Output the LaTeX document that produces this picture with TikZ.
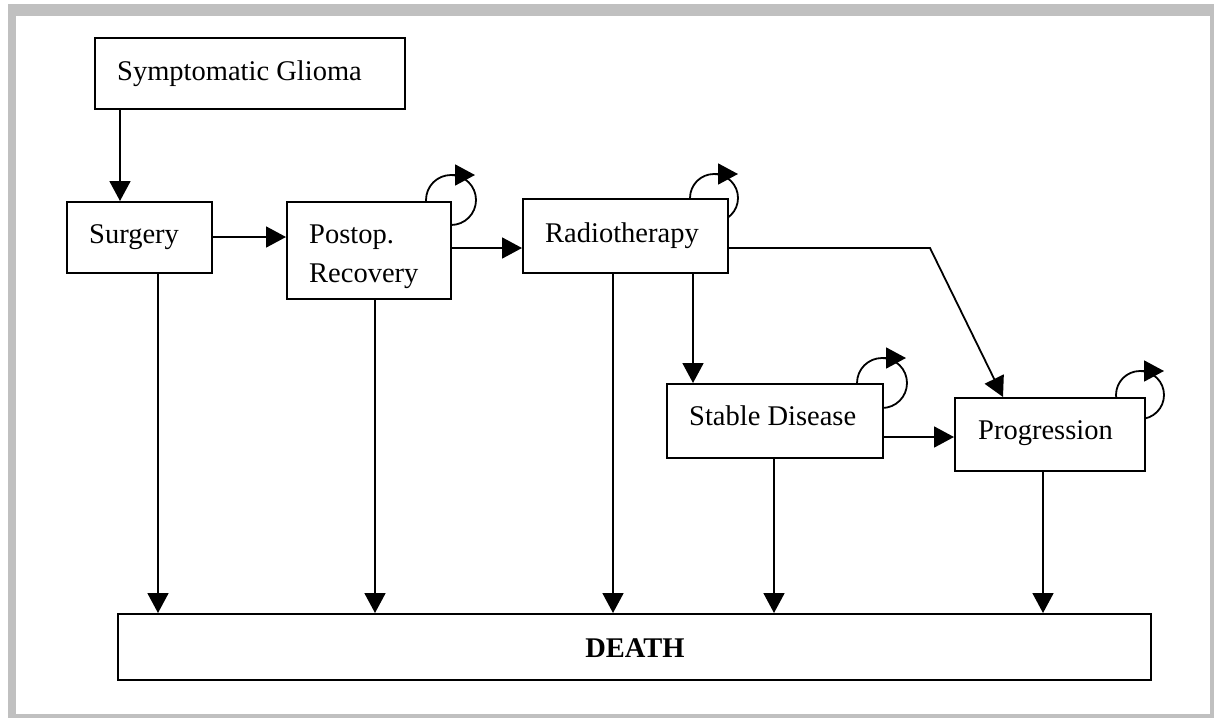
\documentclass[tikz,border=0pt]{standalone}
\usepackage{fontspec}
\setmainfont{Liberation Serif}
\usetikzlibrary{arrows.meta,calc}
\definecolor{framegray}{RGB}{192,192,192}
\tikzset{
  box/.style={draw, fill=white, line width=1.8pt, rectangle, inner sep=0pt, anchor=north west},
  txt/.style={font=\fontsize{28.5}{34}\selectfont, anchor=base west, inner sep=0pt},
  arr/.style={line width=1.8pt, -{Triangle[length=20pt,width=21pt]}},
  loopc/.style={line width=1.8pt},
  looparr/.style={line width=1.8pt, -{Triangle[length=20pt,width=21pt]}}
}
\begin{document}
\begin{tikzpicture}[x=1pt,y=-1pt]
\useasboundingbox (0,0) rectangle (1214,718);
\fill[framegray] (8,4) rectangle (1214,718);
\fill[white] (16,16) rectangle (1210,714);

% self-loop circles (drawn before boxes)
\coordinate (cpost) at (451,200);
\coordinate (cradio) at (714,198);
\coordinate (cstable) at (882,383);
\coordinate (cprog) at (1140,395);
\foreach \c/\r in {cpost/25, cradio/24, cstable/25, cprog/24}{
  \draw[loopc] (\c) circle (\r);
  \draw[looparr] ($(\c)+(0,-\r)$) -- ++(24,0);
}

% boxes
\node[box, minimum width=310pt, minimum height=71pt] (sg) at (94,37) {};
\node[box, minimum width=145pt, minimum height=71pt] (surg) at (66,201) {};
\node[box, minimum width=164pt, minimum height=97pt] (post) at (286,201) {};
\node[box, minimum width=205pt, minimum height=74pt] (radio) at (522,198) {};
\node[box, minimum width=216pt, minimum height=74pt] (stable) at (666,383) {};
\node[box, minimum width=190pt, minimum height=73pt] (prog) at (954,397) {};
\node[box, minimum width=1033pt, minimum height=66pt] (death) at (117,613) {};

% texts
\node[txt] (tsg) at (117,80) {Symptomatic Glioma};
\node[txt] (tsurg) at (89,243) {Surgery};
\node[txt] (tpost1) at (309,243) {Postop.};
\node[txt] (tpost2) at (309,282) {Recovery};
\node[txt] (tradio) at (545,242) {Radiotherapy};
\node[txt] (tstable) at (689,425) {Stable Disease};
\node[txt] (tprog) at (978,439) {Progression};
\node[txt, anchor=base, font=\fontsize{28.5}{34}\selectfont\bfseries] (tdeath) at (635,657) {DEATH};

% connectors
\draw[arr] (120,0 |- sg.south) -- (120,0 |- surg.north);
\draw[arr] (surg.east |- 0,237) -- (post.west |- 0,237);
\draw[arr] (post.east |- 0,248) -- (radio.west |- 0,248);
\coordinate (bend) at (930,248);
\draw[arr] (radio.east |- bend) -- (bend) -- (1003,0 |- prog.north);
\draw[arr] (693,0 |- radio.south) -- (693,0 |- stable.north);
\draw[arr] (stable.east |- 0,437) -- (prog.west |- 0,437);

\draw[arr] (158,0 |- surg.south) -- (158,0 |- death.north);
\draw[arr] (375,0 |- post.south) -- (375,0 |- death.north);
\draw[arr] (613,0 |- radio.south) -- (613,0 |- death.north);
\draw[arr] (774,0 |- stable.south) -- (774,0 |- death.north);
\draw[arr] (1043,0 |- prog.south) -- (1043,0 |- death.north);
\end{tikzpicture}
\end{document}
